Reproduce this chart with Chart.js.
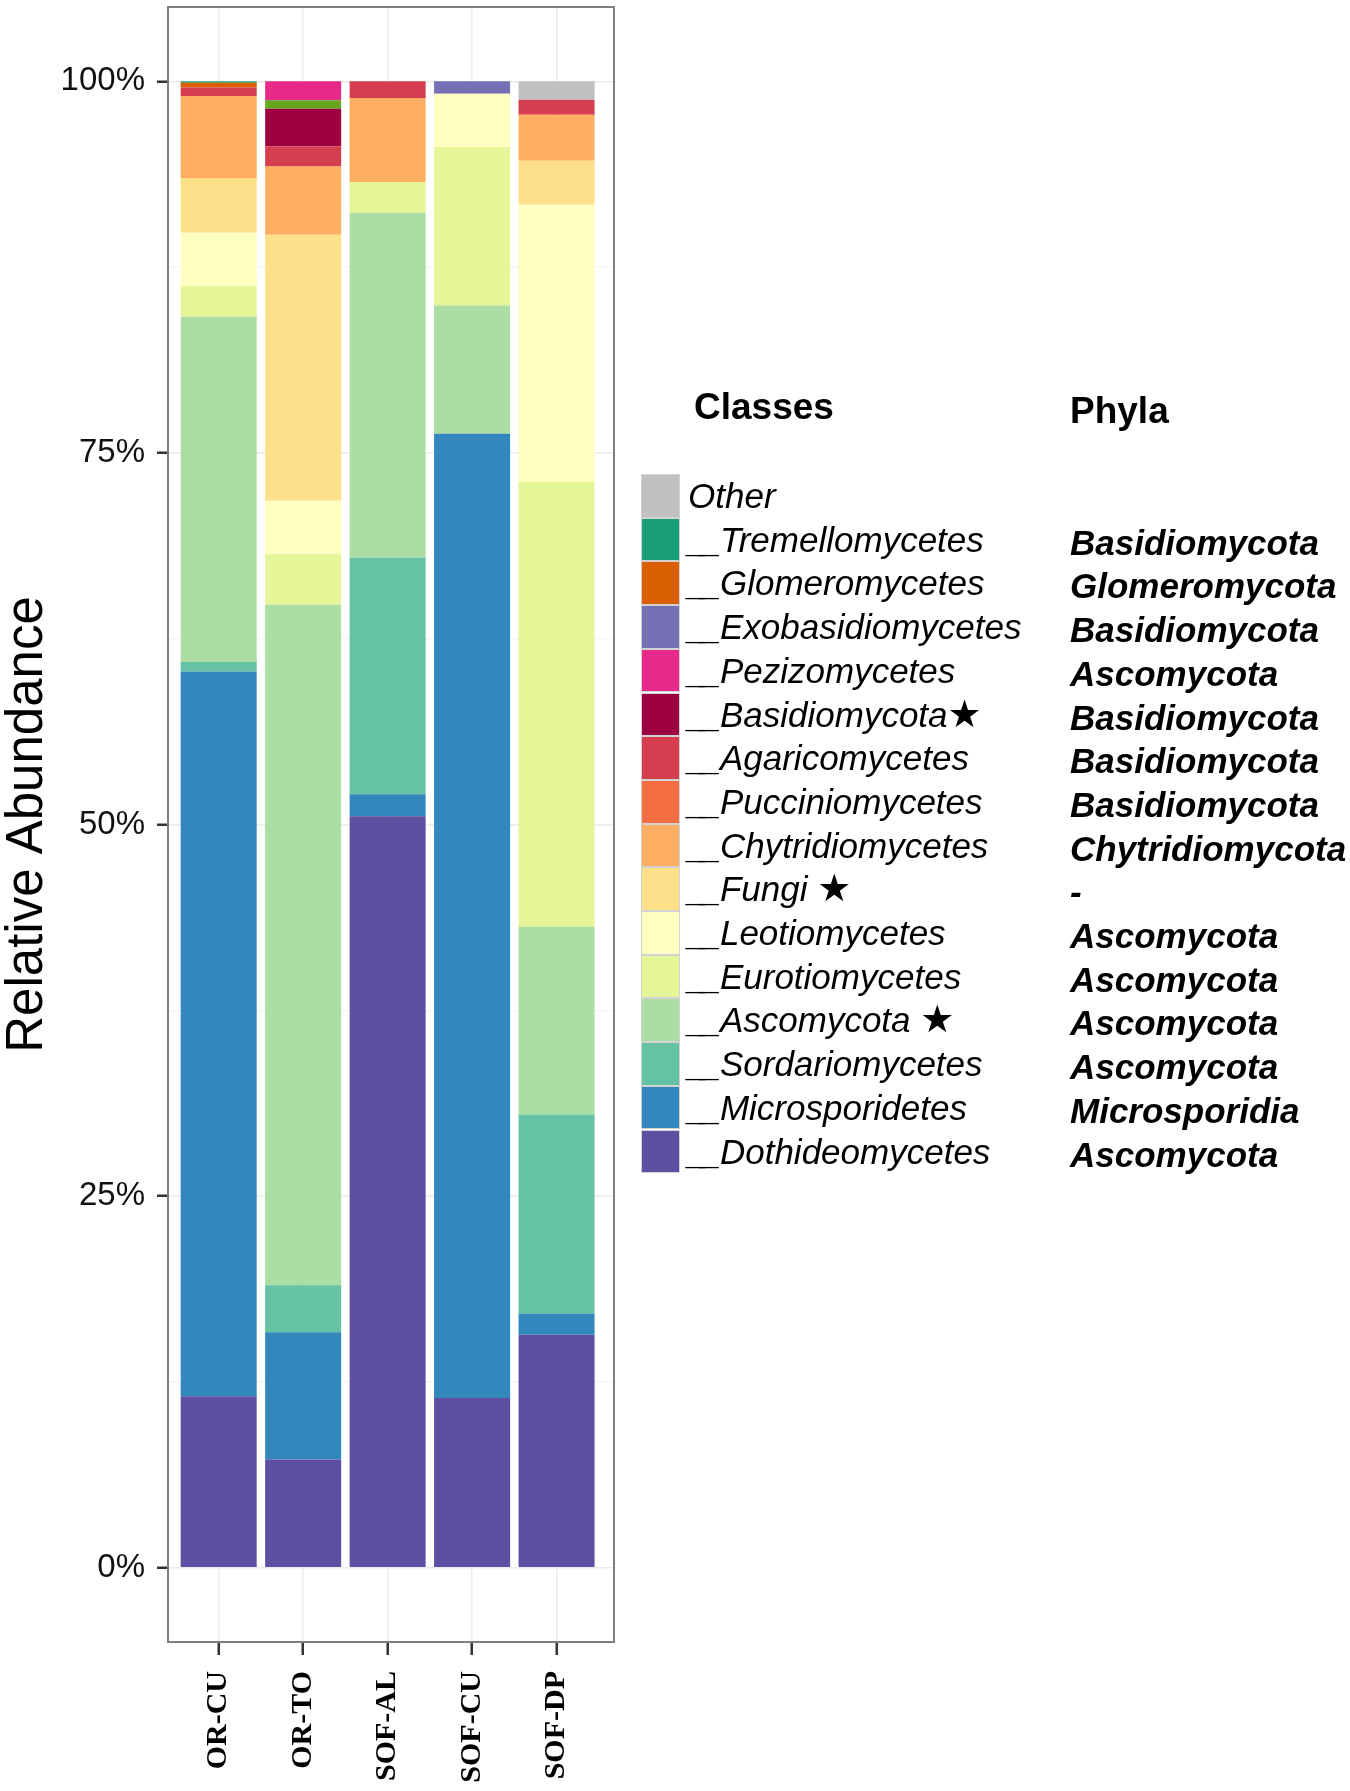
<!DOCTYPE html>
<html>
<head>
<meta charset="utf-8">
<title>Relative abundance of fungal classes</title>
<script src="https://cdn.jsdelivr.net/npm/chart.js"></script>
<style>
  html, body { margin: 0; padding: 0; background: #fff; }
  #wrap { position: relative; width: 1350px; height: 1791px; overflow: hidden; }
  #wrap canvas { position: absolute; left: 0; top: 0; }
  #legend { position: absolute; left: 0; top: 0; font-family: 'Liberation Sans', Arial, sans-serif; color: #000; }
  .hdr { position: absolute; font-weight: bold; font-size: 37px; line-height: 44px; white-space: nowrap; }
  .key { position: absolute; left: 641px; width: 39px; box-sizing: border-box; border: 1.5px solid #d2d2d2; }
  .cls { position: absolute; left: 688px; font-style: italic; font-size: 35px; white-space: nowrap; }
  .us { letter-spacing: -6px; margin-right: 5px; }
  .phy { position: absolute; left: 1070px; font-style: italic; font-weight: bold; font-size: 35px; white-space: nowrap; }
  .star { font-style: normal; font-family: 'DejaVu Sans', sans-serif; font-size: 38px; }
</style>
</head>
<body>
<div id="wrap">
  <canvas id="chart" width="1350" height="1791"></canvas>
  <div id="legend"></div>
</div>
<script>
const samples = ['OR-CU', 'OR-TO', 'SOF-AL', 'SOF-CU', 'SOF-DP'];

// percent of reads per sample, same order as samples
const dothideomycetes   = [11.54,  7.28, 50.55, 11.41, 15.67];
const microsporidetes   = [48.75,  8.56,  1.49, 64.88,  1.42];
const sordariomycetes   = [ 0.65,  3.16, 15.91,  0,    13.40];
const ascomycotaUncl    = [23.22, 45.79, 23.19,  8.63, 12.63];
const eurotiomycetes    = [ 2.07,  3.39,  2.08, 10.66, 29.92];
const leotiomycetes     = [ 3.58,  3.60,  0,     3.59, 18.66];
const fungiUncl         = [ 3.68, 17.90,  0,     0,     2.96];
const chytridiomycetes  = [ 5.52,  4.59,  5.65,  0,     3.09];
const pucciniomycetes   = [ 0,     0,     0,     0,     0   ];
const agaricomycetes    = [ 0.58,  1.36,  1.13,  0,     1.01];
const basidiomycotaUncl = [ 0,     2.52,  0,     0,     0   ];
const unlisted          = [ 0,     0.57,  0,     0,     0   ];
const pezizomycetes     = [ 0,     1.28,  0,     0,     0   ];
const exobasidiomycetes = [ 0,     0,     0,     0.83,  0   ];
const glomeromycetes    = [ 0.32,  0,     0,     0,     0   ];
const tremellomycetes   = [ 0.10,  0,     0,     0,     0   ];
const other             = [ 0,     0,     0,     0,     1.24];

// stacking order, bottom to top
const series = [dothideomycetes, microsporidetes, sordariomycetes, ascomycotaUncl, eurotiomycetes,
  leotiomycetes, fungiUncl, chytridiomycetes, pucciniomycetes, agaricomycetes, basidiomycotaUncl,
  unlisted, pezizomycetes, exobasidiomycetes, glomeromycetes, tremellomycetes, other];
const classes = ['__Dothideomycetes', '__Microsporidetes', '__Sordariomycetes', '__Ascomycota ★',
  '__Eurotiomycetes', '__Leotiomycetes', '__Fungi ★', '__Chytridiomycetes', '__Pucciniomycetes',
  '__Agaricomycetes', '__Basidiomycota★', '', '__Pezizomycetes', '__Exobasidiomycetes',
  '__Glomeromycetes', '__Tremellomycetes', 'Other'];
const phyla = ['Ascomycota', 'Microsporidia', 'Ascomycota', 'Ascomycota', 'Ascomycota', 'Ascomycota',
  '-', 'Chytridiomycota', 'Basidiomycota', 'Basidiomycota', 'Basidiomycota', null, 'Ascomycota',
  'Basidiomycota', 'Glomeromycota', 'Basidiomycota', ''];
const colors = ['#5E4FA2', '#3288BD', '#66C2A5', '#ABDDA4', '#E6F598', '#FFFFBF', '#FEE08B', '#FDAE61',
  '#F46D43', '#D53E4F', '#9E0142', '#66A61E', '#E7298A', '#7570B3', '#D95F02', '#1B9E77', '#C0C0C0'];

const yTicks = [0, 12.5, 25, 37.5, 50, 62.5, 75, 87.5, 100];
const sans = "'Liberation Sans', Arial, sans-serif";

// grey frame round the plotting panel
const panelBorder = {
  id: 'panelBorder',
  afterDatasetsDraw(chart) {
    const a = chart.chartArea, ctx = chart.ctx;
    ctx.save();
    ctx.strokeStyle = '#7f7f7f';
    ctx.lineWidth = 2;
    ctx.strokeRect(a.left, a.top, a.right - a.left, a.bottom - a.top);
    ctx.restore();
  }
};

new Chart(document.getElementById('chart'), {
  type: 'bar',
  data: {
    datasets: series.map((s, i) => ({
      label: classes[i],
      data: s.map((v, j) => ({ x: j + 1, y: v })),
      backgroundColor: colors[i],
      borderWidth: 0,
      categoryPercentage: 0.9,
      barPercentage: 1
    }))
  },
  options: {
    responsive: false,
    animation: false,
    layout: { padding: { top: 7, right: 736, left: 0, bottom: 0 } },
    plugins: { legend: { display: false }, tooltip: { enabled: false } },
    scales: {
      x: {
        type: 'linear', stacked: true, offset: false, min: 0.4, max: 5.68,
        afterBuildTicks: s => { s.ticks = samples.map((_, i) => ({ value: i + 1 })); },
        afterFit: s => { s.height = 149; s.paddingLeft = 0; s.paddingRight = 0; },
        ticks: {
          callback: v => samples[v - 1], autoSkip: false, maxRotation: 90, minRotation: 90, padding: 16,
          color: '#000', font: { family: "'Liberation Serif', 'Times New Roman', serif", weight: 'bold', size: 30 }
        },
        grid: { offset: false, color: '#ebebeb', lineWidth: 1.5, tickLength: 13, tickColor: '#333', tickWidth: 2.5 },
        border: { display: false }
      },
      y: {
        stacked: true, min: -5, max: 105,
        afterBuildTicks: s => { s.ticks = yTicks.map(v => ({ value: v })); },
        afterFit: s => { s.width = 168; s.paddingTop = 0; s.paddingBottom = 0; },
        ticks: {
          callback: v => (v % 25 === 0 ? v + '%' : ''), autoSkip: false, padding: 12,
          color: '#111', font: { family: sans, size: 33 }
        },
        grid: {
          color: c => (c.tick && c.tick.value % 25 !== 0 ? '#f6f6f6' : '#ebebeb'),
          lineWidth: 1.5, tickLength: 11, tickWidth: 2.5,
          tickColor: c => (c.tick && c.tick.value % 25 !== 0 ? 'rgba(0,0,0,0)' : '#333')
        },
        border: { display: false },
        title: {
          display: true, text: 'Relative Abundance', color: '#000',
          font: { family: sans, size: 51, lineHeight: 1 }, padding: { top: 2, bottom: 0 }
        }
      }
    }
  },
  plugins: [panelBorder]
});

// legend: classes with their phyla, top of the stack first
const legend = document.getElementById('legend');
const rowTop = 474, rowH = 43.7;
legend.innerHTML = '<div class="hdr" style="left:694px;top:385px">Classes</div>' +
  '<div class="hdr" style="left:1070px;top:389px">Phyla</div>';
let row = 0;
for (let i = series.length - 1; i >= 0; i--) {
  if (phyla[i] === null) continue;
  const top = rowTop + row * rowH;
  const name = classes[i].replace('__', '<span class="us">__</span>')
    .replace('★', '<span class="star">★</span>');
  legend.innerHTML +=
    `<div class="key" style="top:${top}px;height:${rowH}px;background:${colors[i]}"></div>` +
    `<div class="cls" style="top:${top}px;line-height:${rowH}px">${name}</div>` +
    `<div class="phy" style="top:${top + 3}px;line-height:${rowH}px">${phyla[i]}</div>`;
  row++;
}
</script>
</body>
</html>
